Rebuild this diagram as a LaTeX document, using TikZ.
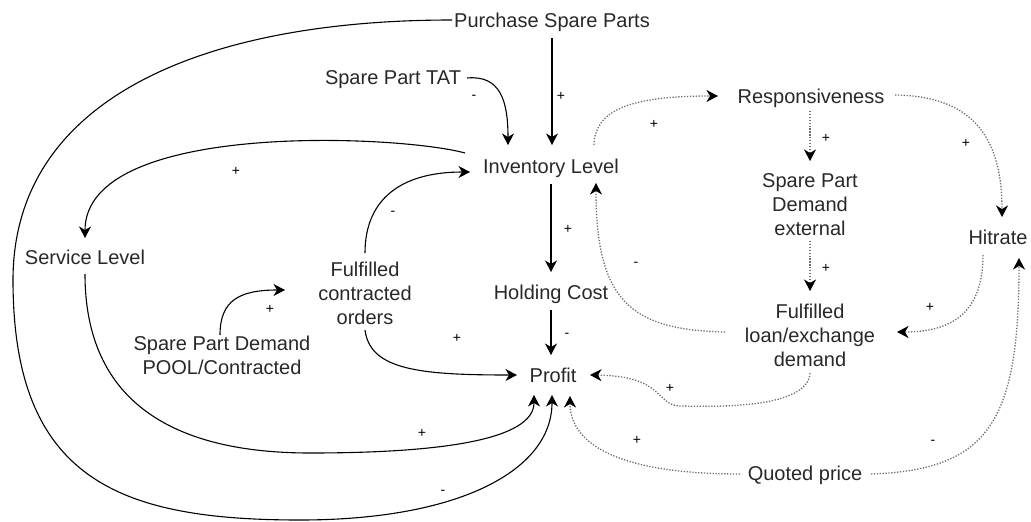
\documentclass[tikz,border=0pt]{standalone}
\usepackage{fontspec}
\setmainfont{Liberation Sans}
\usetikzlibrary{arrows.meta,calc}
\definecolor{txt}{RGB}{40,40,40}
\definecolor{dotc}{RGB}{110,110,110}
\tikzset{
  var/.style={inner sep=0pt, text=txt, font=\fontsize{20}{24}\selectfont,
              text height=18.4pt, text depth=4pt},
  mvar/.style={inner sep=0pt, text=txt, font=\fontsize{20}{24}\selectfont, align=center},
  sign/.style={inner sep=0pt, text=black, font=\fontsize{14}{14}\selectfont},
  tip/.style={-{Stealth[length=11.5pt,width=12pt,inset=3.5pt,color=black]}},
  link/.style={tip, draw=black, line width=1.1pt},
  dlink/.style={tip, draw=dotc, line width=1.3pt, dash pattern=on 1.3pt off 1.6pt},
}
\begin{document}
\begin{tikzpicture}[x=1pt,y=-1pt]
\useasboundingbox (0,0) rectangle (1031,522);

% variables
\node[var]  (psp)    at (552,20)  {Purchase Spare Parts};
\node[var]  (tat)    at (393,77)  {Spare Part TAT};
\node[var]  (inv)    at (551,166) {Inventory Level};
\node[var]  (resp)   at (811,96)  {Responsiveness};
\node[mvar] (spde)   at (810,205) {Spare Part\\Demand\\external};
\node[var]  (hit)    at (998,237) {Hitrate};
\node[var]  (serv)   at (85,257)  {Service Level};
\node[mvar] (fco)    at (365,293) {Fulfilled\\contracted\\orders};
\node[mvar] (pool)   at (222,355) {Spare Part Demand\\POOL/Contracted};
\node[var]  (hold)   at (551,292) {Holding Cost};
\node[var]  (profit) at (553,375) {Profit};
\node[mvar] (fled)   at (810,335) {Fulfilled\\loan/exchange\\demand};
\node[var]  (qp)     at (805,473) {Quoted price};

% solid causal links
\draw[link] ($(psp)+(0,18)$) -- ($(inv)+(1,-21)$);
\draw[link] ($(psp)+(-100,0)$) .. controls (200,20) and (13,100) .. (13,280)
   .. controls (13,480) and (120,520) .. (300,520)
   .. controls (460,520) and (552,470) .. ($(profit)+(-1,20)$);
\draw[link] ($(serv)+(0,17)$) .. controls (85,420) and (200,453) .. (310,453)
   .. controls (440,453) and (534,440) .. ($(profit)+(-19,20)$);
\draw[link] ($(inv)+(-86,-13)$) .. controls (400,135) and (85,120) .. ($(serv)+(0,-19)$);
\draw[link] ($(tat)+(74,1)$) .. controls (500,75) and (508,100) .. ($(inv)+(-43,-21)$);
\draw[link] ($(inv)+(0,18)$) -- ($(hold)+(0,-20)$);
\draw[link] ($(hold)+(0,18)$) -- ($(profit)+(-2,-20)$);
\draw[link] ($(fco)+(0,-40)$) .. controls (365,200) and (400,172) .. ($(inv)+(-81,6)$);
\draw[link] ($(pool)+(-2,-20)$) .. controls (220,300) and (240,290) .. ($(fco)+(-80,-3)$);
\draw[link] ($(fco)+(0,37)$) .. controls (370,370) and (420,375) .. ($(profit)+(-36,0)$);

% dotted causal links
\draw[dlink] ($(inv)+(43,-21)$) .. controls (595,110) and (630,96) .. ($(resp)+(-93,0)$);
\draw[dlink] ($(resp)+(-1,15)$) -- ($(spde)+(0,-44)$);
\draw[dlink] ($(resp)+(84,-1)$) .. controls (975,96) and (1002,140) .. ($(hit)+(4,-20)$);
\draw[dlink] ($(spde)+(0,36)$) -- ($(fled)+(0,-44)$);
\draw[dlink] ($(hit)+(-15,18)$) .. controls (983,310) and (955,332) .. ($(fled)+(87,-3)$);
\draw[dlink] ($(fled)+(-85,-3)$) .. controls (630,330) and (596,300) .. ($(inv)+(45,17)$);
\draw[dlink] ($(fled)+(0,38)$) .. controls (808,408) and (720,407) .. (680,406)
   .. controls (655,405) and (665,376) .. ($(profit)+(37,0)$);
\draw[dlink] ($(qp)+(-65,1)$) .. controls (610,474) and (570,440) .. ($(profit)+(17,21)$);
\draw[dlink] ($(qp)+(66,1)$) .. controls (990,470) and (1019,420) .. ($(hit)+(21,21)$);

% polarity signs
\node[sign] (s1)  at (561,96)  {+};
\node[sign] (s2)  at (443,492) {-};
\node[sign] (s3)  at (422,433) {+};
\node[sign] (s4)  at (236,171) {+};
\node[sign] (s5)  at (474,97)  {-};
\node[sign] (s6)  at (568,229) {+};
\node[sign] (s7)  at (567,335) {-};
\node[sign] (s8)  at (393,213) {-};
\node[sign] (s9)  at (270,309) {+};
\node[sign] (s10) at (457,338) {+};
\node[sign] (s11) at (654,124) {+};
\node[sign] (s12) at (826,138) {+};
\node[sign] (s13) at (966,143) {+};
\node[sign] (s14) at (826,268) {+};
\node[sign] (s15) at (930,307) {+};
\node[sign] (s16) at (636,264) {-};
\node[sign] (s17) at (670,388) {+};
\node[sign] (s18) at (637,440) {+};
\node[sign] (s19) at (933,442) {-};
\end{tikzpicture}
\end{document}
